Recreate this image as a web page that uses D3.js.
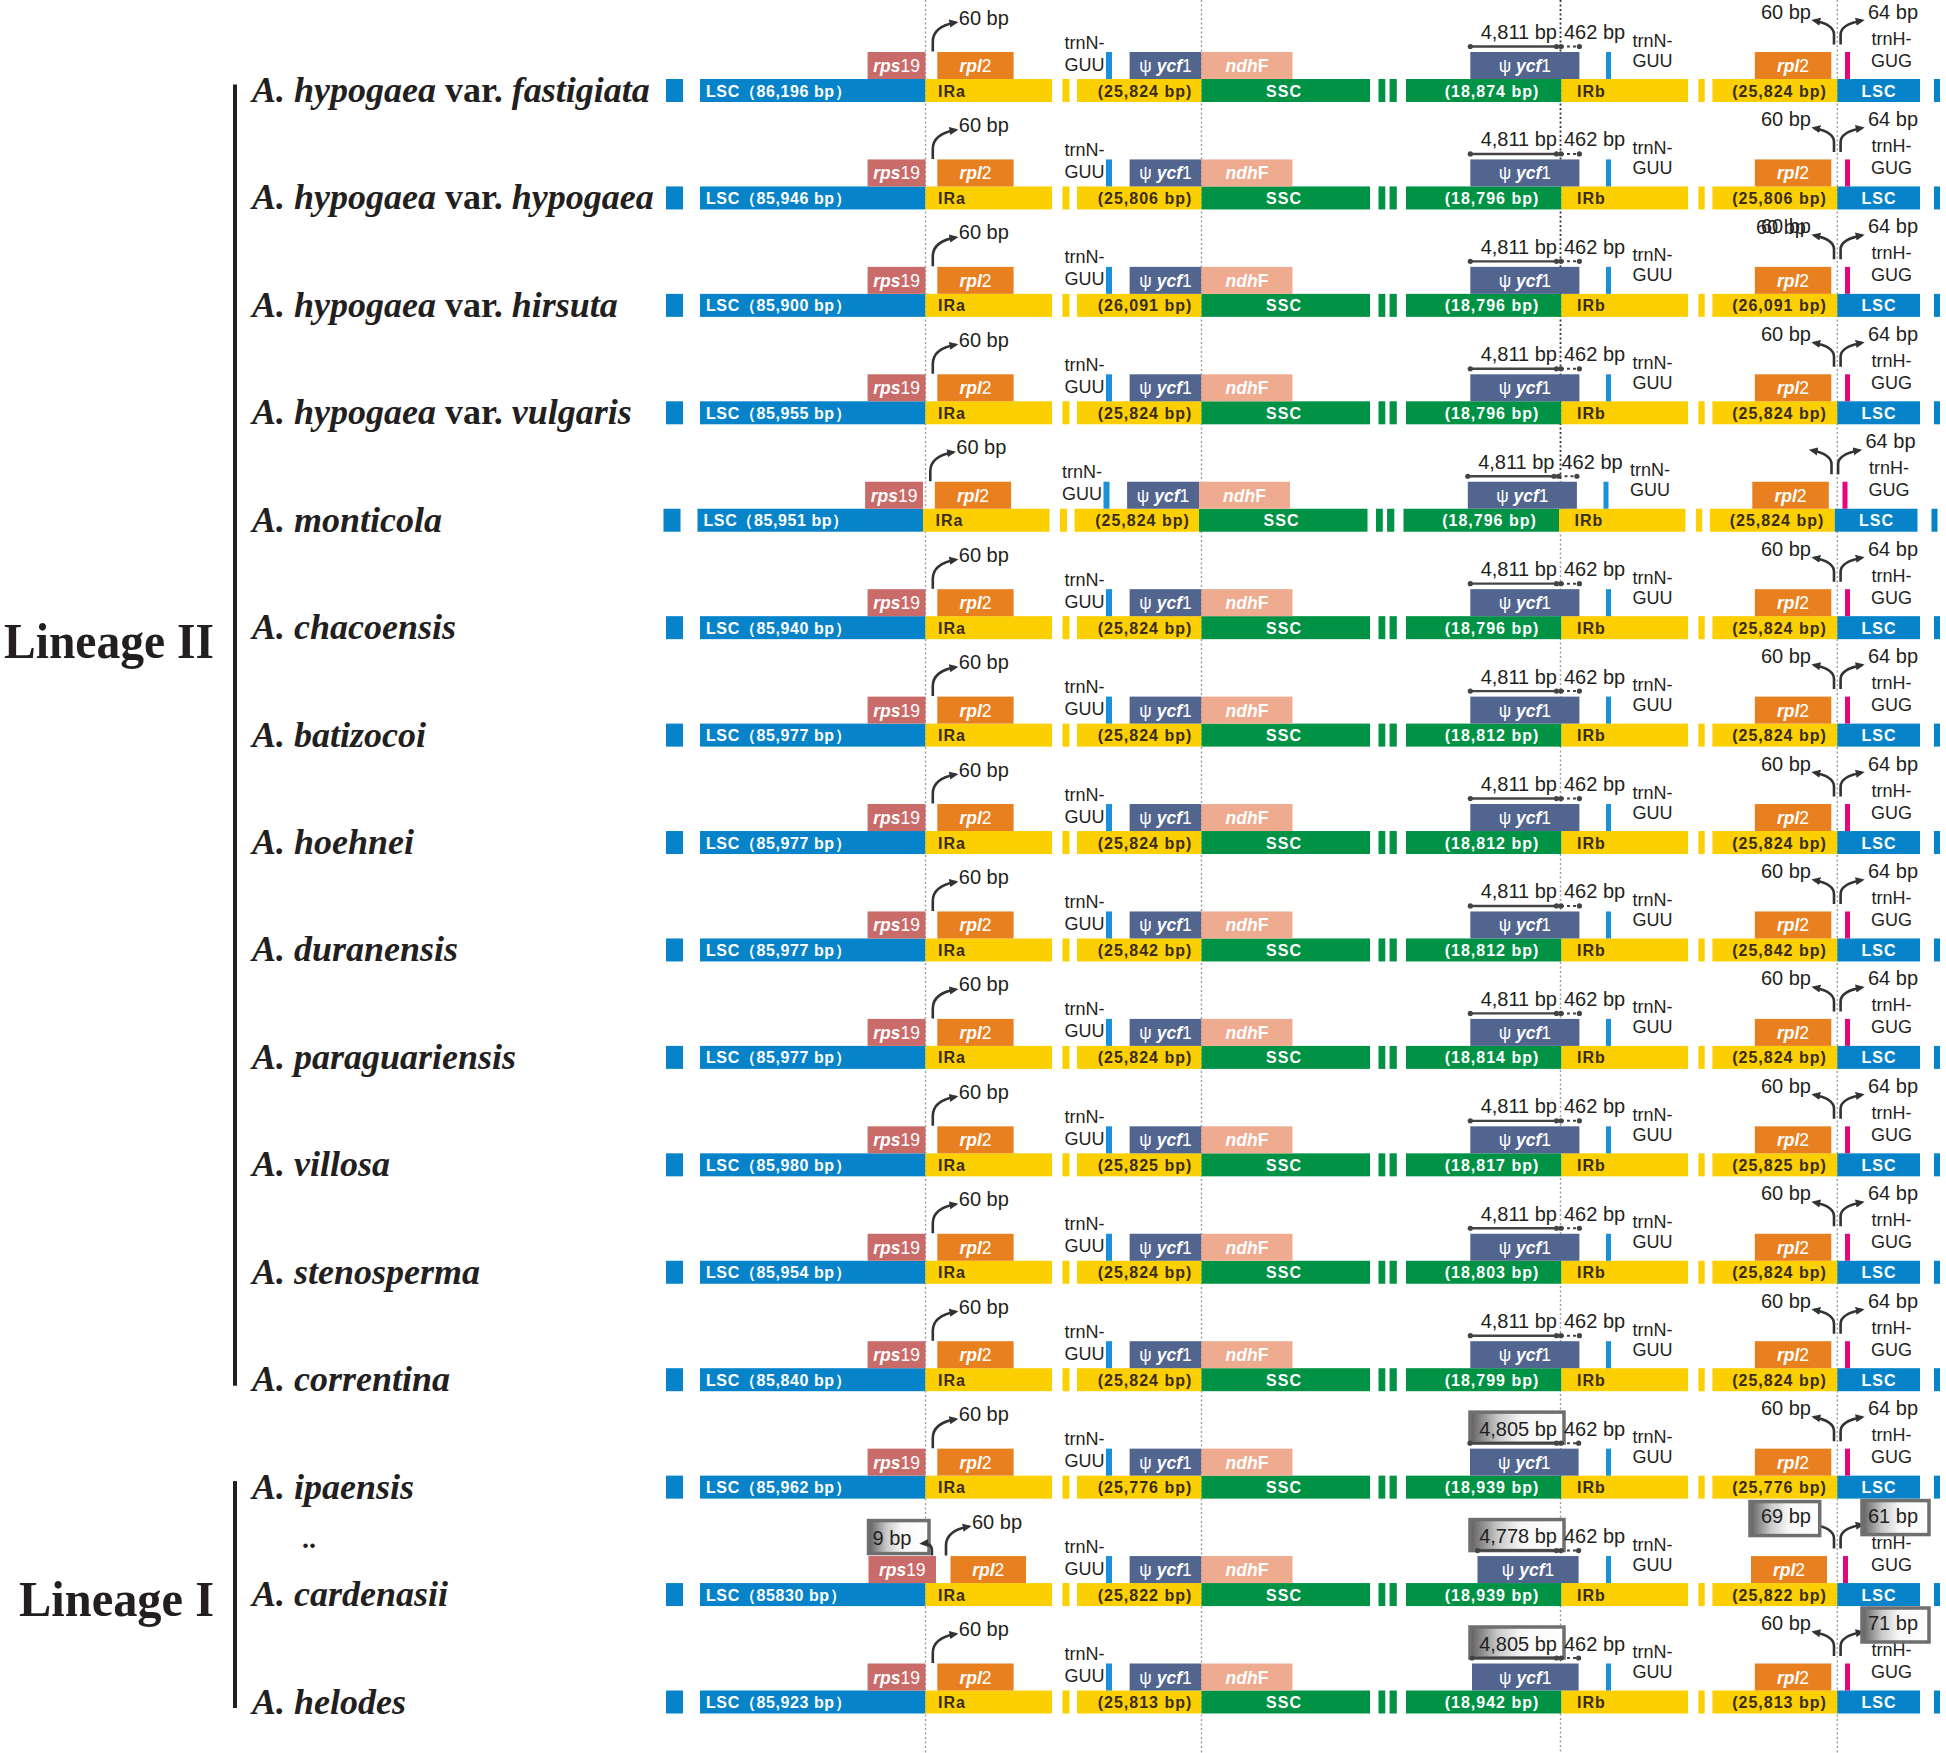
<!DOCTYPE html>
<html><head><meta charset="utf-8">
<script src="https://cdn.jsdelivr.net/npm/d3@7"></script>
<style>body{margin:0;background:#fff}svg{display:block}</style>
</head><body>
<svg id="c" width="1946" height="1753"></svg>
<script>
// ---------------- DATA ----------------
const species = ["A. hypogaea var. fastigiata","A. hypogaea var. hypogaea","A. hypogaea var. hirsuta","A. hypogaea var. vulgaris","A. monticola","A. chacoensis","A. batizocoi","A. hoehnei","A. duranensis","A. paraguariensis","A. villosa","A. stenosperma","A. correntina","A. ipaensis","A. cardenasii","A. helodes"];
const lscLength = ["86,196","85,946","85,900","85,955","85,951","85,940","85,977","85,977","85,977","85,977","85,980","85,954","85,840","85,962","85830","85,923"];
const irLength  = ["25,824","25,806","26,091","25,824","25,824","25,824","25,824","25,824","25,842","25,824","25,825","25,824","25,824","25,776","25,822","25,813"];
const sscLength = ["18,874","18,796","18,796","18,796","18,796","18,796","18,812","18,812","18,812","18,814","18,817","18,803","18,799","18,939","18,939","18,942"];
const ycf1InSSC = ["4,811","4,811","4,811","4,811","4,811","4,811","4,811","4,811","4,811","4,811","4,811","4,811","4,811","4,805","4,778","4,805"];
const ycf1InIRb = [462,462,462,462,462,462,462,462,462,462,462,462,462,462,462,462];
const rpl2GapJLA = [60,60,60,60,60,60,60,60,60,60,60,60,60,60,60,60];
const rps19GapJLA = [null,null,null,null,null,null,null,null,null,null,null,null,null,null,9,null];
const rpl2GapJLB = [60,60,60,60,null,60,60,60,60,60,60,60,60,60,69,60];
const trnHGapJLB = [64,64,64,64,64,64,64,64,64,64,64,64,64,64,61,71];
// values that differ from Lineage II (drawn boxed)
const boxedYcf1 = [13,14,15];
const boxedRps19 = [14];
const boxedRpl2B = [14];
const boxedTrnH = [14,15];
const doubledRpl2B = [2];
const lineageNames = ["Lineage II","Lineage I"];
const lineageFirst = [0,13];
const lineageLast = [12,15];

// ---------------- LAYOUT (schematic) ----------------
const COL = {lsc:"#0784c9", ir:"#fcd000", ssc:"#009245", rps19:"#c96b69", rpl2:"#e9801f", ycf1:"#51658f", ndhF:"#efab8f", trnN:"#1a90d6", trnH:"#e4067d"};
const track = [
  {x0:666,x1:683,t:"lsc"},
  {x0:700,x1:925.5,t:"lsc",lab:i=>`LSC（${lscLength[i]} bp）`,lx:706,a:"start"},
  {x0:925.5,x1:1052,t:"ir",lab:()=>"IRa",lx:938,a:"start"},
  {x0:1062.5,x1:1069.5,t:"ir"},
  {x0:1077,x1:1201.5,t:"ir",lab:i=>`(${irLength[i]} bp)`,lx:1145,a:"middle"},
  {x0:1201.5,x1:1370,t:"ssc",lab:()=>"SSC",lx:1284,a:"middle"},
  {x0:1378.5,x1:1385.3,t:"ssc"},
  {x0:1389.6,x1:1396.8,t:"ssc"},
  {x0:1406,x1:1561.5,t:"ssc",lab:i=>`(${sscLength[i]} bp)`,lx:1492,a:"middle"},
  {x0:1561.5,x1:1688,t:"ir",lab:()=>"IRb",lx:1577,a:"start"},
  {x0:1698.4,x1:1704.7,t:"ir"},
  {x0:1712.4,x1:1837.3,t:"ir",lab:i=>`(${irLength[i]} bp)`,lx:1779.5,a:"middle"},
  {x0:1837.3,x1:1920,t:"lsc",lab:()=>"LSC",lx:1879,a:"middle"},
  {x0:1934,x1:1940,t:"lsc"}
];
const genesBase = {
  rps19:{x0:867.6,x1:925.5}, rpl2A:{x0:937.3,x1:1013.6}, trnNA:{x0:1106,x1:1112},
  ycf1A:{x0:1129.6,x1:1201.5}, ndhF:{x0:1201.5,x1:1292.5}, ycf1B:{x0:1470.3,x1:1579.4},
  trnNB:{x0:1606,x1:1611}, rpl2B:{x0:1754.8,x1:1831.3}, trnH:{x0:1845,x1:1850}
};
const geneOverride = {
  4:{shift:-2.5},
  13:{ycf1B:{x0:1470,x1:1578.6}},
  14:{rps19:{x0:868.5,x1:936}, rpl2A:{x0:950.5,x1:1026}, ycf1B:{x0:1477.5,x1:1578.6}, rpl2B:{x0:1751,x1:1827}, trnH:{x0:1843,x1:1848}},
  15:{ycf1B:{x0:1472,x1:1578.6}}
};
const geneType = {rps19:"rps19",rpl2A:"rpl2",trnNA:"trnN",ycf1A:"ycf1",ndhF:"ndhF",ycf1B:"ycf1",trnNB:"trnN",rpl2B:"rpl2",trnH:"trnH"};
const geneLabel = {
  rps19:[["rps","bi"],["19","n"]], rpl2:[["rpl","bi"],["2","n"]],
  ycf1:[["ψ ","n"],["ycf","bi"],["1","n"]], ndhF:[["ndh","bi"],["F","b"]]
};

// ---------------- DRAW ----------------
const svg = d3.select("#c");
const x = d3.scaleLinear().domain([0,1946]).range([0,1946]);
const y = d3.scaleLinear().domain([0,species.length-1]).range([90.5,1702]);
const BAR=23, GENE=27, SANS="'Liberation Sans', Arial, sans-serif", SERIF="'Liberation Serif','Times New Roman',serif";
const INK="#231f20", DARK="#3a2c1f";

const defs = svg.append("defs");
const gr = defs.append("linearGradient").attr("id","bg").attr("x1","0").attr("x2","1").attr("y1","0").attr("y2","0");
[[0,"#5e5e5e"],[0.3,"#c9c9c9"],[0.55,"#f7f7f7"],[1,"#ffffff"]].forEach(s=>gr.append("stop").attr("offset",s[0]).attr("stop-color",s[1]));
defs.append("marker").attr("id","ah").attr("viewBox","0 -5 10 10").attr("refX",7).attr("refY",0)
  .attr("markerWidth",9).attr("markerHeight",9).attr("markerUnits","userSpaceOnUse").attr("orient","auto")
  .append("path").attr("d","M0,-4.5L10,0L0,4.5Z").attr("fill","#333");

// vertical dotted guide lines
const guides = [[925.5,0,1753,"#9c9c9c"],[1201.5,0,1753,"#9c9c9c"],[1837.3,0,1753,"#9c9c9c"],[1560.5,0,530,"#333"],[1560.5,530,1753,"#9c9c9c"]];
svg.append("g").selectAll("line").data(guides).join("line")
  .attr("x1",d=>x(d[0])).attr("x2",d=>x(d[0])).attr("y1",d=>d[1]).attr("y2",d=>d[2])
  .attr("stroke",d=>d[3]).attr("stroke-width",d=>d[3]==="#333"?1.8:1.4).attr("stroke-dasharray","2,2.5");

function boxRect(g,x0,x1,y0,y1){
  g.append("rect").attr("x",x(x0)).attr("y",y0).attr("width",x(x1)-x(x0)).attr("height",y1-y0)
   .attr("fill","url(#bg)").attr("stroke","#6f6f6f").attr("stroke-width",3.5);
}
function arrow(g,x0,y0,x1,y1){
  const yTop=y1+4;
  g.append("path").attr("d",`M${x(x0)},${y0} L${x(x0)},${y0-10} Q${x(x0)},${yTop} ${x(x1)},${y1}`)
   .attr("fill","none").attr("stroke","#333").attr("stroke-width",2.6).attr("marker-end","url(#ah)");
}
function ann(g,str,xx,yy,anchor){
  return g.append("text").attr("x",x(xx)).attr("y",yy).attr("text-anchor",anchor||"start")
   .attr("font-family",SANS).attr("font-size",20).attr("fill",INK).text(str);
}

species.forEach((name,i)=>{
  const c = y(i);
  const ov = geneOverride[i]||{};
  const sh = ov.shift||0;
  const g = svg.append("g").attr("transform",`translate(${sh},0)`);
  // main track
  track.forEach(s=>{
    g.append("rect").attr("x",x(s.x0)).attr("y",c-BAR/2).attr("width",x(s.x1)-x(s.x0)).attr("height",BAR).attr("fill",COL[s.t]);
    if(s.lab){
      g.append("text").attr("x",x(s.lx)).attr("y",c+6).attr("text-anchor",s.a)
       .attr("font-family",SANS).attr("font-weight","bold").attr("font-size",16).attr("letter-spacing",s.t==="lsc"&&s.lx<800?0.6:1)
       .attr("fill",s.t==="ir"?DARK:"#fff").text(s.lab(i));
    }
  });
  // genes
  const genes = {};
  Object.keys(genesBase).forEach(k=>genes[k]=Object.assign({},genesBase[k],ov[k]||{}));
  Object.keys(genes).forEach(k=>{
    const gd=genes[k], t=geneType[k];
    g.append("rect").attr("x",x(gd.x0)).attr("y",c-BAR/2-GENE).attr("width",x(gd.x1)-x(gd.x0)).attr("height",GENE).attr("fill",COL[t]);
    if(geneLabel[t]){
      const tx=g.append("text").attr("x",(x(gd.x0)+x(gd.x1))/2).attr("y",c-18.5).attr("text-anchor","middle")
        .attr("font-family",SANS).attr("font-size",17.5).attr("fill","#fff");
      geneLabel[t].forEach(p=>tx.append("tspan").text(p[0])
        .attr("font-weight",p[1]==="n"?"normal":"bold").attr("font-style",p[1]==="bi"?"italic":"normal"));
    }
  });
  // trnN / trnH labels
  [["trnN-",1064.5,c-42,"start"],["GUU",1064.5,c-20,"start"],["trnN-",1632.5,c-44,"start"],["GUU",1632.5,c-24,"start"],
   ["trnH-",1891.6,c-46,"middle"],["GUG",1891.6,c-24,"middle"]].forEach(d=>{
    g.append("text").attr("x",x(d[1])).attr("y",d[2]).attr("text-anchor",d[3]).attr("font-family",SANS)
     .attr("font-size",18).attr("fill",INK).text(d[0]);
  });
  // JLA arrow (rpl2)
  const ra = genes.rpl2A;
  const ax = ra.x0-4.5;
  arrow(g,ax,c-39,ax+23,c-68);
  ann(g,`${rpl2GapJLA[i]} bp`,ax+26,c-66);
  if(rps19GapJLA[i]!=null){
    const rx = genes.rps19.x1-4;
    if(boxedRps19.includes(i)) boxRect(g,genes.rps19.x0,rx-3,c-74,c-41);
    g.append("path").attr("d",`M${x(rx)},${c-39} L${x(rx)},${c-44} Q${x(rx)},${c-52} ${x(rx-10)},${c-51}`)
     .attr("fill","none").attr("stroke","#333").attr("stroke-width",2.4).attr("marker-end","url(#ah)");
    ann(g,`${rps19GapJLA[i]} bp`,genes.rps19.x0+4,c-50);
  }
  // ycf1 measurement in SSC / IRb
  const yb = genes.ycf1B;
  const my = c-44;
  if(boxedYcf1.includes(i)) boxRect(g,1470,1564,c-75,c-44);
  g.append("line").attr("x1",x(yb.x0)).attr("x2",x(1556.5)).attr("y1",my).attr("y2",my).attr("stroke","#444").attr("stroke-width",2.4);
  g.append("line").attr("x1",x(1561)).attr("x2",x(yb.x1)).attr("y1",my).attr("y2",my).attr("stroke","#444").attr("stroke-width",2).attr("stroke-dasharray","3,3");
  [yb.x0,1556.5,1561,yb.x1].forEach(px=>g.append("circle").attr("cx",x(px)).attr("cy",my).attr("r",2.6).attr("fill","#444"));
  ann(g,`${ycf1InSSC[i]} bp`,1557,c-51.5,"end");
  ann(g,`${ycf1InIRb[i]} bp`,1564,c-51.5,"start");
  // JLB arrows
  const jx = 1834;
  arrow(g,jx,c-46,jx-20,c-70);
  arrow(g,jx+6.6,c-46,jx+28,c-70);
  if(boxedRpl2B.includes(i)) boxRect(g,1750,1819.7,c-93,c-59);
  if(boxedTrnH.includes(i)) boxRect(g,1862,1929,c-94,c-60);
  if(rpl2GapJLB[i]!=null){
    ann(g,`${rpl2GapJLB[i]} bp`,1811,c-72,"end");
    if(doubledRpl2B.includes(i)) ann(g,`${rpl2GapJLB[i]} bp`,1806,c-71,"end");
  }
  ann(g,`${trnHGapJLB[i]} bp`,1868,c-72,"start");

  // species name
  const st = svg.append("text").attr("x",252).attr("y",c+11.5).attr("font-family",SERIF)
    .attr("font-weight","bold").attr("font-size",36).attr("fill",INK);
  name.split(" ").forEach((w,k,arr)=>{
    st.append("tspan").attr("font-style",w==="var."?"normal":"italic").text(w+(k<arr.length-1?" ":""));
  });
});

// lineage brackets
const lineageBase = [y(5)+30, y(14)+21];
const lineageWidth = [210, 195];
lineageNames.forEach((n,k)=>{
  const top = y(lineageFirst[k])-6, bot = y(lineageLast[k])+6;
  svg.append("line").attr("x1",235).attr("x2",235).attr("y1",top).attr("y2",bot).attr("stroke",INK).attr("stroke-width",4);
  svg.append("text").attr("x",214-lineageWidth[k]).attr("y",lineageBase[k])
    .attr("textLength",lineageWidth[k]).attr("lengthAdjust","spacingAndGlyphs")
    .attr("font-family",SERIF).attr("font-weight","bold").attr("font-size",50).attr("fill",INK).text(n);
});
svg.append("text").attr("x",302).attr("y",(y(13)+y(14))/2+7).attr("font-family",SERIF).attr("font-weight","bold")
  .attr("font-size",28).attr("fill",INK).text("..");
</script>
</body></html>
